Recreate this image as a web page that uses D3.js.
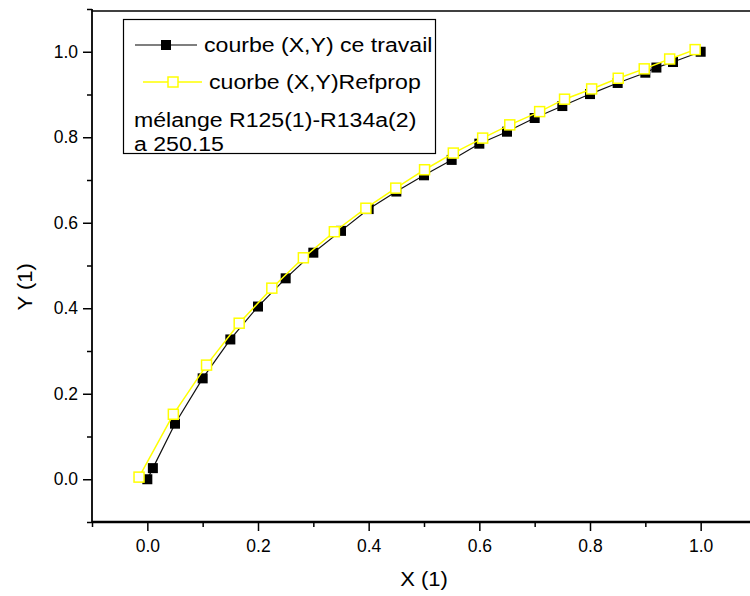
<!DOCTYPE html>
<html><head><meta charset="utf-8">
<script src="https://cdn.jsdelivr.net/npm/d3@7"></script>
<style>body{margin:0;background:#fff;} svg{display:block;font-family:Arial,"Liberation Sans",sans-serif;}</style>
</head><body>
<script>
// Series 1: courbe (X,Y) ce travail
const xTravail = [0, 0.01, 0.05, 0.1, 0.15, 0.2, 0.25, 0.3, 0.35, 0.4, 0.45, 0.5, 0.55, 0.6, 0.65, 0.7, 0.75, 0.8, 0.85, 0.9, 0.92, 0.95, 1.0];
const yTravail = [0, 0.026, 0.13, 0.236, 0.327, 0.404, 0.47, 0.53, 0.581, 0.632, 0.673, 0.711, 0.747, 0.785, 0.813, 0.845, 0.873, 0.901, 0.927, 0.951, 0.963, 0.976, 1.0];
// Series 2: cuorbe (X,Y)Refprop
const xRefprop = [-0.015, 0.047, 0.107, 0.166, 0.225, 0.282, 0.338, 0.395, 0.449, 0.501, 0.553, 0.606, 0.655, 0.709, 0.754, 0.803, 0.851, 0.898, 0.944, 0.99];
const yRefprop = [0.005, 0.152, 0.267, 0.365, 0.447, 0.518, 0.579, 0.634, 0.681, 0.724, 0.763, 0.798, 0.829, 0.86, 0.889, 0.913, 0.938, 0.96, 0.983, 1.005];
const majorTicks = [0.0, 0.2, 0.4, 0.6, 0.8, 1.0];
const minorTicks = [-0.1, 0.1, 0.3, 0.5, 0.7, 0.9, 1.1];
const legendLabels = ["courbe (X,Y) ce travail", "cuorbe (X,Y)Refprop"];
const legendNotes = ["mélange R125(1)-R134a(2)", "a 250.15"];
const xTitle = "X (1)", yTitle = "Y (1)";

const W = 750, H = 596;
const svg = d3.select("body").append("svg").attr("width", W).attr("height", H);
const x = d3.scaleLinear().domain([-0.1, 1.1]).range([92, 756]);
const y = d3.scaleLinear().domain([-0.1, 1.1]).range([522, 9]);
const fmt = d3.format(".1f");

// X axis
const gx = svg.append("g").attr("transform", `translate(0,${y(-0.1)})`);
gx.call(d3.axisBottom(x).tickValues(majorTicks).tickSize(9).tickSizeOuter(0).tickFormat(fmt).tickPadding(9));
gx.append("g").call(d3.axisBottom(x).tickValues(minorTicks).tickSize(5).tickFormat(""));
gx.selectAll(".domain").remove();
gx.selectAll("line").attr("stroke", "#000").attr("stroke-width", 1.5);
gx.selectAll("text").attr("font-size", 17.5).attr("fill", "#000").attr("font-family", "Arial, 'Liberation Sans', sans-serif");

// Y axis
const gy = svg.append("g").attr("transform", `translate(${x(-0.1)},0)`);
gy.call(d3.axisLeft(y).tickValues(majorTicks).tickSize(9).tickSizeOuter(0).tickFormat(fmt).tickPadding(5));
gy.append("g").call(d3.axisLeft(y).tickValues(minorTicks).tickSize(5).tickFormat(""));
gy.selectAll(".domain").remove();
gy.selectAll("line").attr("stroke", "#000").attr("stroke-width", 1.5);
gy.selectAll("text").attr("font-size", 17.5).attr("fill", "#000").attr("font-family", "Arial, 'Liberation Sans', sans-serif");

// Frame lines
svg.append("line").attr("x1", x(-0.1)).attr("x2", x(1.1)).attr("y1", y(-0.1)).attr("y2", y(-0.1)).attr("stroke", "#000").attr("stroke-width", 2.5);
svg.append("line").attr("x1", x(-0.1)).attr("x2", x(-0.1)).attr("y1", y(-0.1)).attr("y2", y(1.1)).attr("stroke", "#000").attr("stroke-width", 1.8);
svg.append("line").attr("x1", x(-0.1)).attr("x2", x(1.1)).attr("y1", y(1.1) + 2).attr("y2", y(1.1) + 2).attr("stroke", "#000").attr("stroke-width", 1.5);

// Axis titles
svg.append("text").attr("transform", `translate(${x(0.5)},586) scale(1.1,1)`).attr("text-anchor", "middle").attr("font-size", 20).text(xTitle);
svg.append("text").attr("transform", `translate(32,${y(0.45)}) rotate(-90) scale(1.1,1)`).attr("text-anchor", "middle").attr("font-size", 20).text(yTitle);

// Series
const line = d3.line().x(d => x(d[0])).y(d => y(d[1]));
const dT = xTravail.map((v, i) => [v, yTravail[i]]);
const dR = xRefprop.map((v, i) => [v, yRefprop[i]]);

svg.append("path").datum(dT).attr("d", line).attr("fill", "none").attr("stroke", "#111").attr("stroke-width", 1.2);
svg.selectAll(".sqT").data(dT).enter().append("rect").attr("class", "sqT")
  .attr("x", d => x(d[0]) - 5).attr("y", d => y(d[1]) - 5).attr("width", 10).attr("height", 10)
  .attr("fill", "#000");

svg.append("path").datum(dR).attr("d", line).attr("fill", "none").attr("stroke", "#ffff00").attr("stroke-width", 1.5);
svg.selectAll(".sqR").data(dR).enter().append("rect").attr("class", "sqR")
  .attr("x", d => x(d[0]) - 5).attr("y", d => y(d[1]) - 5).attr("width", 10).attr("height", 10)
  .attr("fill", "#fff").attr("stroke", "#ffff00").attr("stroke-width", 1.5);

// Legend
const lg = svg.append("g");
lg.append("rect").attr("x", 123.5).attr("y", 19.5).attr("width", 312).attr("height", 134).attr("fill", "#fff").attr("stroke", "#000").attr("stroke-width", 1.2);
lg.append("line").attr("x1", 135).attr("x2", 197).attr("y1", 45).attr("y2", 45).attr("stroke", "#000").attr("stroke-width", 1.2);
lg.append("rect").attr("x", 161).attr("y", 40).attr("width", 10).attr("height", 10).attr("fill", "#000");
lg.append("line").attr("x1", 143).attr("x2", 202).attr("y1", 82).attr("y2", 82).attr("stroke", "#ffff00").attr("stroke-width", 1.5);
lg.append("rect").attr("x", 168).attr("y", 77).attr("width", 10).attr("height", 10).attr("fill", "#fff").attr("stroke", "#ffff00").attr("stroke-width", 1.5);
const legendTexts = [
  {t: legendLabels[0], x: 204, y: 52},
  {t: legendLabels[1], x: 209, y: 89},
  {t: legendNotes[0], x: 134, y: 127},
  {t: legendNotes[1], x: 134, y: 151}
];
lg.selectAll(".lt").data(legendTexts).enter().append("text").attr("class", "lt")
  .attr("transform", d => `translate(${d.x},${d.y}) scale(1.1,1)`)
  .attr("font-size", 21).attr("fill", "#000").text(d => d.t);
</script>
</body></html>
